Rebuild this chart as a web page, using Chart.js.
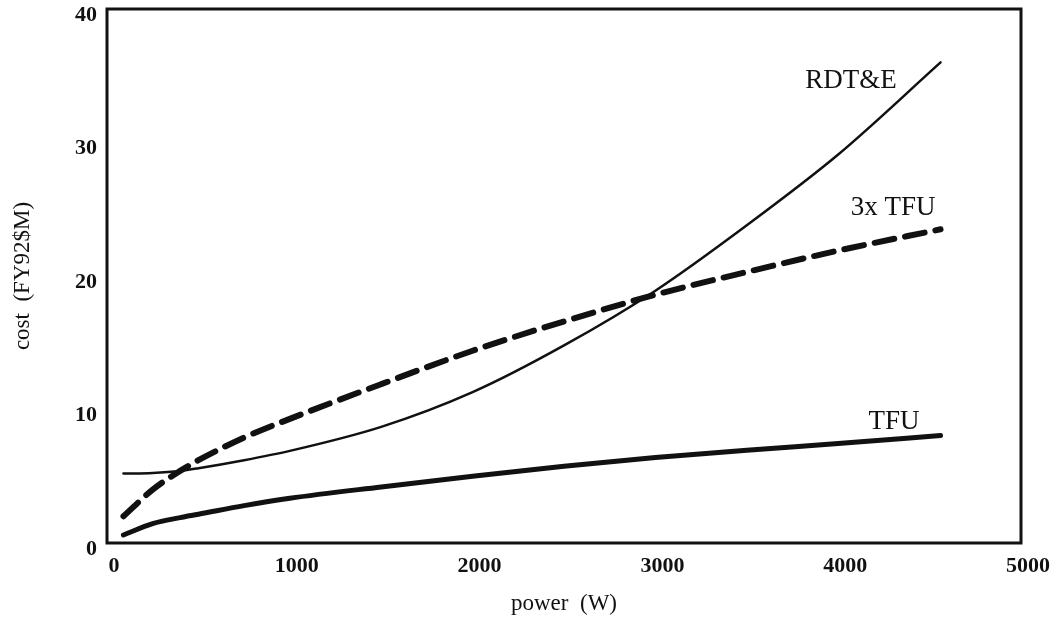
<!DOCTYPE html>
<html>
<head>
<meta charset="utf-8">
<script src="https://cdn.jsdelivr.net/npm/chart.js@4/dist/chart.umd.min.js"></script>
<style>
  html, body { margin: 0; padding: 0; background: #fff; }
  #wrap { width: 1056px; height: 622px; }
</style>
</head>
<body>
<div id="wrap"><canvas id="myChart" width="1056" height="622"></canvas></div>
<script>
// data
const power = [90, 250, 400, 500, 750, 1000, 1500, 2000, 2500, 3000, 3500, 4000, 4560];
const rdte = [5.2, 5.25, 5.4, 5.6, 6.2, 6.9, 8.7, 11.3, 14.8, 18.9, 23.8, 29.1, 36.0];
const tfu3 = [2.0, 4.0, 5.4, 6.2, 7.9, 9.3, 11.9, 14.4, 16.6, 18.6, 20.3, 21.9, 23.5];
const tfu = [0.6, 1.45, 1.9, 2.15, 2.8, 3.35, 4.2, 5.0, 5.75, 6.4, 6.95, 7.45, 8.05];

const xTicks = [0, 1000, 2000, 3000, 4000, 5000];
const yTicks = [0, 10, 20, 30, 40];

const pts = arr => power.map((p, i) => ({ x: p, y: arr[i] }));

// box round the plot + curve names
const boxAndNames = {
  id: 'boxAndNames',
  afterDraw(chart, args, opts) {
    const { ctx, chartArea: a, scales } = chart;
    ctx.save();
    ctx.strokeStyle = '#111';
    ctx.lineWidth = 3;
    ctx.strokeRect(a.left, a.top, a.right - a.left, a.bottom - a.top);
    ctx.fillStyle = '#111';
    ctx.font = '27px "Liberation Serif", serif';
    ctx.textAlign = 'center';
    ctx.textBaseline = 'middle';
    opts.names.forEach(n => {
      ctx.fillText(n.text, scales.x.getPixelForValue(n.x), scales.y.getPixelForValue(n.y));
    });
    ctx.restore();
  }
};

const line = (label, arr, width, dash) => ({
  label,
  data: pts(arr),
  borderColor: '#111',
  borderWidth: width,
  borderDash: dash,
  borderCapStyle: 'round',
  pointRadius: 0,
  cubicInterpolationMode: 'monotone',
  fill: false
});

const tickFont = { family: '"Liberation Serif", serif', size: 22, weight: 'bold' };
const titleFont = { family: '"Liberation Serif", serif', size: 23 };

new Chart(document.getElementById('myChart'), {
  type: 'line',
  data: {
    datasets: [
      line('RDT&E', rdte, 2.5, []),
      line('3x TFU', tfu3, 6, [20, 11]),
      line('TFU', tfu, 5, [])
    ]
  },
  options: {
    responsive: false,
    animation: false,
    devicePixelRatio: 1,
    layout: { padding: 0 },
    plugins: {
      legend: { display: false },
      tooltip: { enabled: false },
      boxAndNames: {
        names: [
          { text: 'RDT&E', x: 4070, y: 34.6 },
          { text: '3x TFU', x: 4300, y: 25.1 },
          { text: 'TFU', x: 4305, y: 9.1 }
        ]
      }
    },
    scales: {
      x: {
        type: 'linear',
        min: 0,
        max: 5000,
        afterFit: s => { s.height = 79; s.paddingLeft = 0; s.paddingRight = 35; },
        afterBuildTicks: s => { s.ticks = xTicks.map(v => ({ value: v })); },
        grid: { display: false, drawTicks: false },
        border: { display: false },
        ticks: {
          color: '#111',
          padding: 10,
          labelOffset: 7,
          maxRotation: 0,
          callback: v => String(v),
          font: tickFont
        },
        title: {
          display: true,
          text: 'power  (W)',
          color: '#111',
          padding: { top: 0, bottom: 4 },
          font: titleFont
        }
      },
      y: {
        min: 0,
        max: 40,
        afterFit: s => { s.width = 107; s.paddingTop = 9; s.paddingBottom = 0; },
        afterBuildTicks: s => { s.ticks = yTicks.map(v => ({ value: v })); },
        grid: { display: false, drawTicks: false },
        border: { display: false },
        ticks: {
          color: '#111',
          padding: 10,
          labelOffset: 6,
          callback: v => String(v),
          font: tickFont
        },
        title: {
          display: true,
          text: 'cost  (FY92$M)',
          color: '#111',
          padding: { top: 9, bottom: 0 },
          font: titleFont
        }
      }
    }
  },
  plugins: [boxAndNames]
});
</script>
</body>
</html>
